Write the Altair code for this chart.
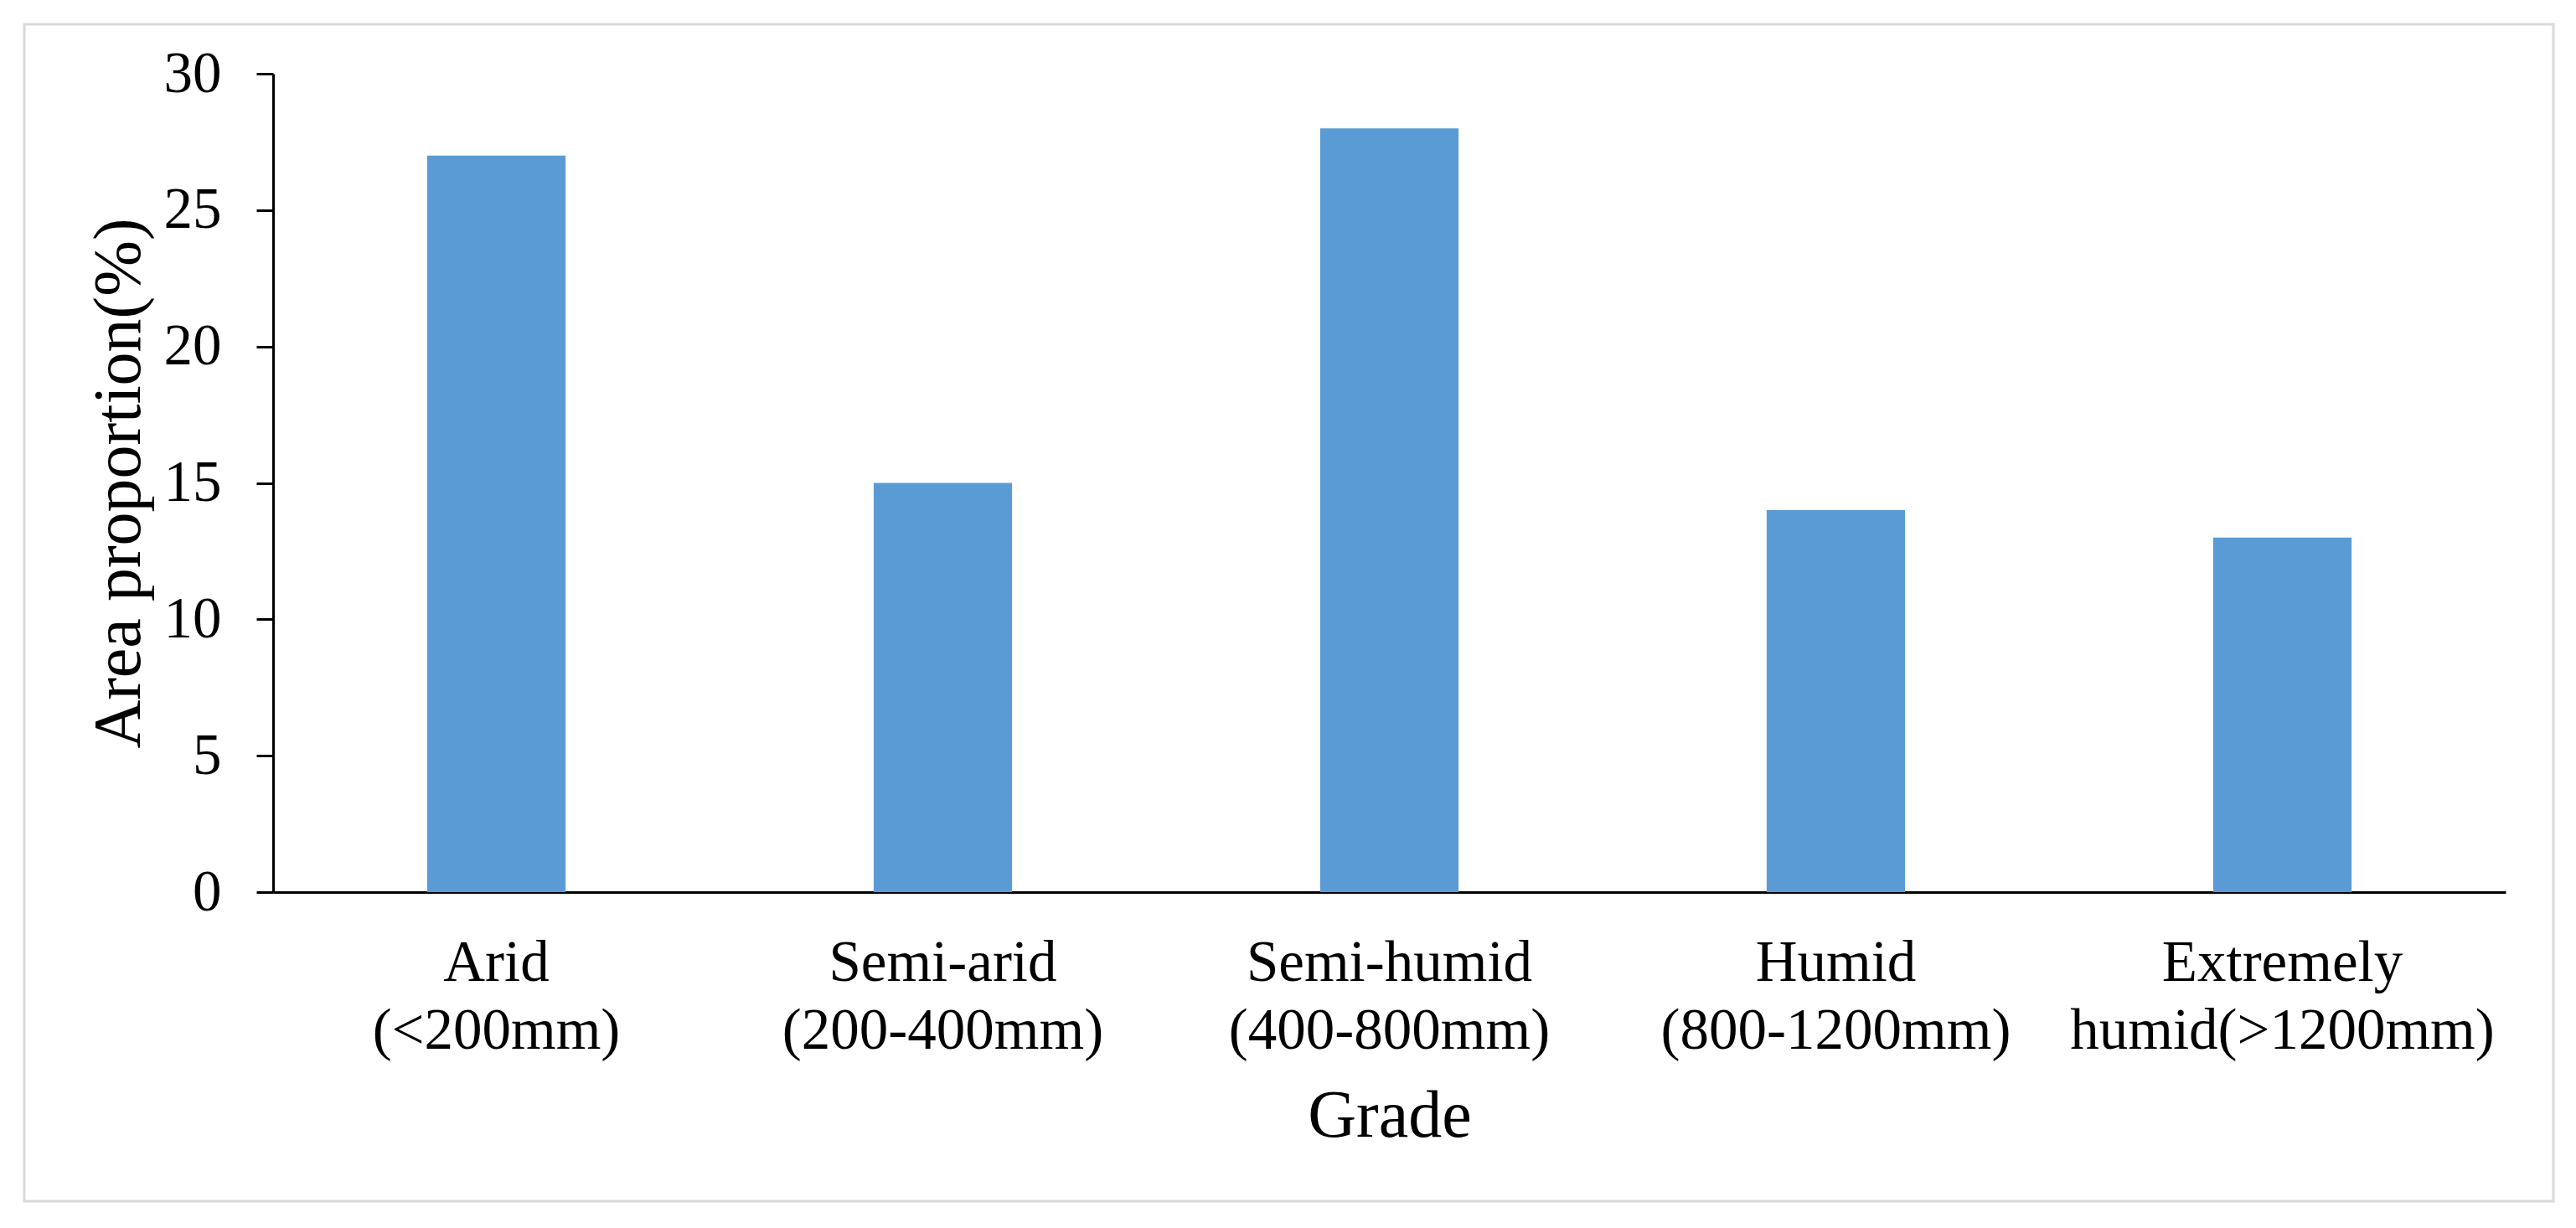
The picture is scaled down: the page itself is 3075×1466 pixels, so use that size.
import altair as alt
import pandas as pd

line1 = ["Arid", "Semi-arid", "Semi-humid", "Humid", "Extremely"]
line2 = ["(<200mm)", "(200-400mm)", "(400-800mm)", "(800-1200mm)", "humid(>1200mm)"]
values = [27, 15, 28, 14, 13]
y_ticks = [0, 5, 10, 15, 20, 25, 30]

cats = [a + "|" + b for a, b in zip(line1, line2)]
df = pd.DataFrame({"grade": cats, "value": values})

FONT = "Liberation Serif"
W, H = 2665, 977
X0, Y0 = 326, 88

bars = alt.Chart(df).mark_bar(color="#5B9BD5").encode(
    x=alt.X(
        "grade:N",
        sort=cats,
        scale=alt.Scale(paddingInner=0.69, paddingOuter=0.345),
        axis=alt.Axis(
            title="Grade",
            labelExpr="split(datum.label, '|')",
            labelAngle=0,
            labelFont=FONT,
            labelFontSize=69,
            labelColor="black",
            labelLineHeight=81,
            labelPadding=50,
            ticks=False,
            domainColor="black",
            domainWidth=3,
            titleFont=FONT,
            titleFontSize=80,
            titleFontWeight="normal",
            titleColor="black",
            titlePadding=28,
            labelLimit=1000,
        ),
    ),
    y=alt.Y(
        "value:Q",
        scale=alt.Scale(domain=[0, 30], nice=False),
        axis=alt.Axis(
            title="Area proportion(%)",
            values=y_ticks,
            grid=False,
            labelFont=FONT,
            labelFontSize=69,
            labelColor="black",
            labelPadding=42,
            tickColor="black",
            tickWidth=3,
            tickSize=20,
            domainColor="black",
            domainWidth=3,
            titleFont=FONT,
            titleFontSize=80,
            titleFontWeight="normal",
            titleColor="black",
            titlePadding=12,
        ),
    ),
)

frame = alt.Chart(pd.DataFrame({"k": [0]})).mark_rect(
    fill=None, stroke="#d9d9d9", strokeWidth=3
).encode(
    x=alt.value(29 - X0),
    x2=alt.value(3048 - X0),
    y=alt.value(29 - Y0),
    y2=alt.value(1434 - Y0),
)

chart = alt.layer(frame, bars).properties(
    width=W,
    height=H,
    autosize=alt.AutoSizeParams(type="none"),
    padding={"left": X0 - 8, "top": Y0 - 8, "right": 65, "bottom": 385},
).configure(background="white").configure_view(stroke=None)

chart.save("out.html", embed_options={"renderer": "svg", "actions": False})
